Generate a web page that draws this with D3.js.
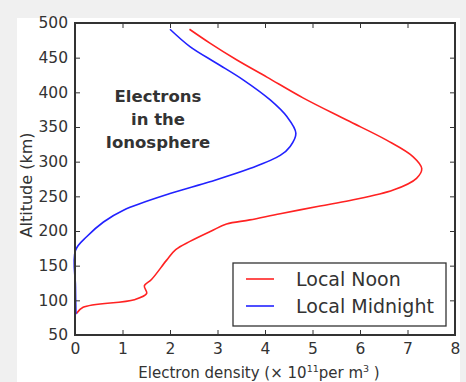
<!DOCTYPE html>
<html>
<head>
<meta charset="utf-8">
<script src="https://cdn.jsdelivr.net/npm/d3@7/dist/d3.min.js"></script>
<style>
  html, body { margin: 0; padding: 0; background: #f0f0f0; }
  svg { display: block; }
  text { font-family: "DejaVu Sans", sans-serif; fill: #333; }
</style>
</head>
<body>
<svg id="chart" width="466" height="382"></svg>
<script>
// electron density (x 10^11 per m^3) vs altitude (km)
const noonDensity  = [0.03, 0.17, 1.25, 1.51, 1.46, 1.61, 1.93, 2.12, 2.42, 2.87, 3.19, 3.68, 4.32, 5.16, 5.79, 6.70, 7.19, 7.30, 7.12, 6.56, 5.72, 4.80, 4.04, 3.40, 2.84, 2.41];
const noonAltitude = [81,   90,   101,  110,  121,  130,  158,  173,  185,  200,  210,  216,  225,  236,  244,  259,  276,  290,  307,  331,  360,  392,  422,  447,  471,  491];

const nightDensity  = [0.02, 0.01, 0.01, 0.25, 0.60, 1.02, 2.00, 2.84, 3.68, 4.32, 4.53, 4.65, 4.46, 4.11, 3.54, 2.98, 2.42, 2.00];
const nightAltitude = [80,   120,  172,  192,  213,  230,  254,  271,  290,  309,  322,  341,  365,  389,  418,  442,  466,  491];

const xTicks = [0, 1, 2, 3, 4, 5, 6, 7, 8];
const yTicks = [50, 100, 150, 200, 250, 300, 350, 400, 450, 500];
const seriesNames = ['Local Noon', 'Local Midnight'];
const seriesColors = ['#ff2222', '#2222ff'];
const noteLines = ['Electrons', 'in the', 'Ionosphere'];

const svg = d3.select('#chart');
const margin = { left: 75, top: 23, right: 11, bottom: 47 };
const W = 466, H = 382;

// white figure panel over the grey page
svg.append('rect')
  .attr('x', 17).attr('y', 18)
  .attr('width', 443).attr('height', H - 18)
  .attr('fill', '#fff');

const x = d3.scaleLinear().domain([0, 8]).range([margin.left, W - margin.right]);
const y = d3.scaleLinear().domain([50, 500]).range([H - margin.bottom, margin.top]);

const series = [
  noonDensity.map((d, i) => ({ x: d, y: noonAltitude[i] })),
  nightDensity.map((d, i) => ({ x: d, y: nightAltitude[i] }))
];

const line = d3.line()
  .x(d => x(d.x))
  .y(d => y(d.y))
  .curve(d3.curveCatmullRom.alpha(0.5));

series.forEach((s, i) => {
  svg.append('path')
    .datum(s)
    .attr('d', line)
    .attr('fill', 'none')
    .attr('stroke', seriesColors[i])
    .attr('stroke-width', 1.6);
});

// axes with inward ticks on all four sides
const tickLen = 5;
const axisColor = '#333';
function styleAxis(g) {
  g.select('.domain').remove();
  g.selectAll('.tick line').attr('stroke', axisColor).attr('stroke-width', 1);
  g.selectAll('.tick text').style('font-size', '15.5px').attr('fill', '#333');
}

svg.append('g')
  .attr('transform', `translate(0,${y(50)})`)
  .call(d3.axisBottom(x).tickValues(xTicks).tickSize(-tickLen).tickPadding(8).tickFormat(d3.format('d')))
  .call(styleAxis);
svg.append('g')
  .attr('transform', `translate(0,${y(500)})`)
  .call(d3.axisTop(x).tickValues(xTicks).tickSize(-tickLen).tickFormat(''))
  .call(styleAxis);
svg.append('g')
  .attr('transform', `translate(${x(0)},0)`)
  .call(d3.axisLeft(y).tickValues(yTicks).tickSize(-tickLen).tickPadding(7).tickFormat(d3.format('d')))
  .call(styleAxis);
svg.append('g')
  .attr('transform', `translate(${x(8)},0)`)
  .call(d3.axisRight(y).tickValues(yTicks).tickSize(-tickLen).tickFormat(''))
  .call(styleAxis);

svg.append('rect')
  .attr('x', x(0)).attr('y', y(500))
  .attr('width', x(8) - x(0)).attr('height', y(50) - y(500))
  .attr('fill', 'none')
  .attr('stroke', axisColor)
  .attr('stroke-width', 2);

// axis labels
const xl = svg.append('text')
  .attr('x', 259).attr('y', 378)
  .attr('text-anchor', 'middle')
  .style('font-size', '15px');
xl.append('tspan').text('Electron density  (× 10');
xl.append('tspan').attr('dy', -6).style('font-size', '9.5px').text('11');
xl.append('tspan').attr('dy', 6).text('per m');
xl.append('tspan').attr('dy', -6).style('font-size', '9.5px').text('3');
xl.append('tspan').attr('dy', 6).text(' )');

svg.append('text')
  .attr('transform', `translate(32,${(y(50) + y(500)) / 2 + 6}) rotate(-90)`)
  .attr('text-anchor', 'middle')
  .style('font-size', '16px')
  .text('Altitude (km)');

// annotation
svg.append('g').selectAll('text')
  .data(noteLines)
  .join('text')
  .attr('x', 158)
  .attr('y', (d, i) => 102 + i * 23)
  .attr('text-anchor', 'middle')
  .style('font-weight', 'bold')
  .style('font-size', '16.5px')
  .attr('fill', '#111')
  .text(d => d);

// legend
const legend = svg.append('g');
legend.append('rect')
  .attr('x', 233).attr('y', 263)
  .attr('width', 213).attr('height', 63)
  .attr('fill', '#fff')
  .attr('stroke', axisColor)
  .attr('stroke-width', 1.3);
seriesNames.forEach((name, i) => {
  const ly = 279 + i * 27;
  legend.append('line')
    .attr('x1', 246).attr('x2', 274)
    .attr('y1', ly).attr('y2', ly)
    .attr('stroke', seriesColors[i])
    .attr('stroke-width', 1.6);
  legend.append('text')
    .attr('x', 296).attr('y', ly + 7)
    .style('font-size', '19px')
    .text(name);
});
</script>
</body>
</html>
